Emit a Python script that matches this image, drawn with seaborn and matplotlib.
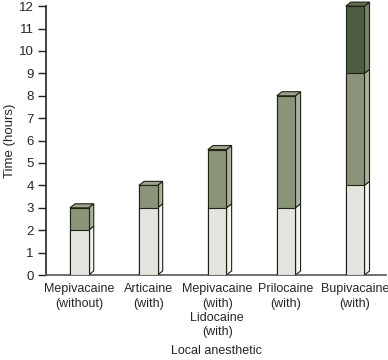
import numpy as np
import pandas as pd
import matplotlib
matplotlib.use("Agg")
import matplotlib.pyplot as plt
from matplotlib.patches import Polygon
import seaborn as sns

# data (hours)
categories = ["Mepivacaine\n(without)", "Articaine\n(with)",
              "Mepivacaine\n(with)\nLidocaine\n(with)", "Prilocaine\n(with)",
              "Bupivacaine\n(with)"]
seg1 = [2, 3, 3, 3, 4]        # light segment top
seg2 = [3, 4, 5.6, 8, 9]      # mid segment top
seg3 = [3, 4, 5.6, 8, 12]     # dark segment top

front_cols = ["#e3e6df", "#8a9479", "#4b5e40"]
side_cols = ["#f3f4f0", "#aab29d", "#76836a"]
top_cols = ["#eef0ea", "#9ca48b", "#5f7052"]
edge = "#1e2218"

sns.set_style("ticks")
plt.rcParams["font.family"] = ["Liberation Sans", "DejaVu Sans"]

fig = plt.figure(figsize=(3.88, 3.6), dpi=100)
ax = fig.add_axes([0.119, 0.236, 0.876, 0.747])

df = pd.DataFrame({"cat": categories, "s1": seg1, "s2": seg2, "s3": seg3})

# draw tallest first, overlay shorter segments
layers = [("s3", 2), ("s2", 1), ("s1", 0)]
for col, k in layers:
    sns.barplot(data=df, x="cat", y=col, color=front_cols[k], width=0.27,
                edgecolor=edge, linewidth=0.8, saturation=1, ax=ax, zorder=3 + (2 - k))

ax.set_xlim(-0.48, 4.45)
ax.set_ylim(0, 12)

# pseudo 3D faces, derived from bar patches
dx, dy = 0.075, 0.18
bottoms = [np.zeros(5), np.array(seg1, float), np.array(seg2, float)]
tops = [np.array(seg1, float), np.array(seg2, float), np.array(seg3, float)]
for k in range(3):
    for i in range(5):
        b, t = bottoms[k][i], tops[k][i]
        if t <= b:
            continue
        x0 = i - 0.135
        x1 = i + 0.135
        side = Polygon([[x1, b], [x1 + dx, b + dy], [x1 + dx, t + dy], [x1, t]],
                       closed=True, facecolor=side_cols[k], edgecolor=edge,
                       linewidth=0.8, zorder=2, clip_on=False)
        ax.add_patch(side)
        if t == tops[2][i]:
            top = Polygon([[x0, t], [x0 + dx, t + dy], [x1 + dx, t + dy], [x1, t]],
                          closed=True, facecolor=top_cols[k], edgecolor=edge,
                          linewidth=0.8, zorder=6, clip_on=False)
            ax.add_patch(top)

ax.set_yticks(range(0, 13))
ax.set_xlabel("Local anesthetic", fontsize=9, labelpad=5)
ax.set_ylabel("Time (hours)", fontsize=9.5, labelpad=2)
ax.tick_params(axis="y", labelsize=9.5, length=6, width=1, color="#222222", pad=3)
ax.tick_params(axis="x", labelsize=9, length=0, pad=6)
for lab in ax.get_xticklabels():
    lab.set_linespacing(1.25)
sns.despine(ax=ax)
ax.spines["left"].set_linewidth(1.2)
ax.spines["bottom"].set_linewidth(1.2)
ax.spines["left"].set_color("#222222")
ax.spines["bottom"].set_color("#555555")

fig.savefig("out.png", dpi=100)
